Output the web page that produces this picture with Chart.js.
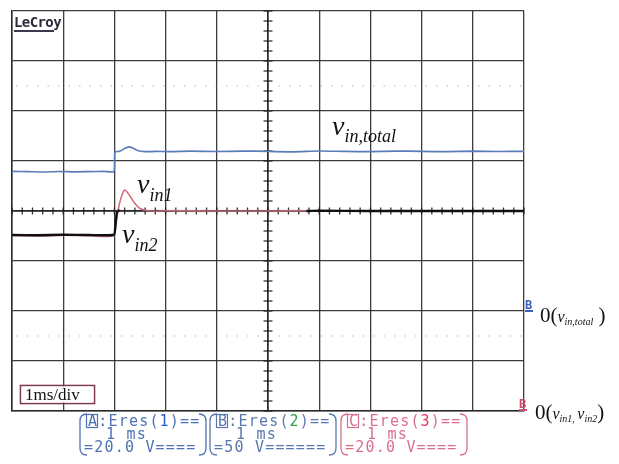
<!DOCTYPE html>
<html>
<head>
<meta charset="utf-8">
<script src="https://cdn.jsdelivr.net/npm/chart.js@4"></script>
<style>
  html, body { margin: 0; padding: 0; background: #ffffff; }
  #wrap { position: relative; width: 619px; height: 464px; }
  canvas { display: block; }
</style>
</head>
<body>
<div id="wrap"><canvas id="scope" width="619" height="464"></canvas></div>
<script>
// Horizontal: 1 ms/div, 10 divisions; vertical: 8 divisions.
const timeDivs = [0, 1, 2, 3, 4, 5, 6, 7, 8, 9, 10];

// Channel B: total input voltage (50 V/div, ground 2 div below centre)
const totalTime = [0, 0.3, 0.6, 0.9, 1.2, 1.5, 1.8, 1.99, 2.01, 2.1, 2.2, 2.28, 2.36, 2.45, 2.6, 2.8, 3.1, 3.5, 4.0, 4.5, 5.0, 5.5, 6.0, 6.5, 7.0, 7.5, 8.0, 8.5, 9.0, 9.5, 10];
const vinTotal  = [139.6, 139.4, 139.0, 139.5, 139.2, 139.4, 139.6, 139.5, 159.0, 159.6, 162.5, 164.2, 163.0, 160.5, 159.3, 159.6, 159.4, 159.8, 159.5, 159.9, 159.6, 159.2, 160.0, 159.6, 159.4, 159.9, 159.6, 159.3, 159.8, 159.5, 159.7];

// Channels C and A: the two module input voltages (20 V/div, ground at bottom)
const inputTime = [0, 0.5, 1.0, 1.5, 1.99, 2.02, 2.05, 2.1, 2.15, 2.2, 2.25, 2.32, 2.4, 2.5, 2.6, 2.8, 3.0, 4.0, 5.0, 5.75, 6.0, 7.0, 8.0, 9.0, 10];
const vin1 = [70.2, 70.0, 70.3, 70.1, 70.2, 74.0, 78.0, 83.0, 86.5, 88.4, 87.5, 85.5, 83.0, 81.0, 80.3, 79.9, 80.1, 80.0, 80.0, 80.1, 80.0, 80.0, 80.0, 80.0, 80.0];
const vin2 = [70.4, 70.3, 70.5, 70.4, 70.5, 74.0, 79.5, 80.3, 79.8, 80.1, 80.0, 80.0, 80.0, 80.0, 80.0, 80.0, 80.0, 80.0, 80.0, 80.0, 80.1, 80.0, 80.0, 80.0, 80.0];

// Channel settings: volts per division and ground position (divisions from centre)
const chA = { vPerDiv: 20, ground: -4 };
const chB = { vPerDiv: 50, ground: -2 };
const chC = { vPerDiv: 20, ground: -4 };

function toDivs(times, volts, ch) {
  return times.map((t, i) => ({ x: t, y: ch.ground + volts[i] / ch.vPerDiv }));
}

const GRID = 'rgba(40,40,40,0.9)';

const overlay = {
  id: 'scopeOverlay',
  beforeDatasetsDraw(chart) {
    const { ctx, chartArea: a, scales: { x, y } } = chart;
    ctx.save();
    // dotted graticule rows
    ctx.strokeStyle = 'rgba(120,120,120,0.55)';
    ctx.lineWidth = 1;
    ctx.setLineDash([1.5, 9]);
    [2.5, -2.5].forEach(d => {
      const py = y.getPixelForValue(d);
      ctx.beginPath(); ctx.moveTo(a.left + 4, py); ctx.lineTo(a.right, py); ctx.stroke();
    });
    ctx.setLineDash([]);
    // centre axes with minor ticks (5 per division)
    const cx = x.getPixelForValue(5), cy = y.getPixelForValue(0);
    ctx.strokeStyle = 'rgba(30,30,30,0.9)';
    ctx.lineWidth = 1.3;
    ctx.beginPath(); ctx.moveTo(a.left, cy); ctx.lineTo(a.right, cy); ctx.stroke();
    ctx.beginPath(); ctx.moveTo(cx, a.top); ctx.lineTo(cx, a.bottom); ctx.stroke();
    ctx.lineWidth = 1.3;
    for (let t = 0; t <= 10.001; t += 0.2) {
      const px = x.getPixelForValue(t);
      ctx.beginPath(); ctx.moveTo(px, cy - 3.5); ctx.lineTo(px, cy + 3.5); ctx.stroke();
    }
    for (let d = -4; d <= 4.001; d += 0.2) {
      const py = y.getPixelForValue(d);
      ctx.beginPath(); ctx.moveTo(cx - 4.5, py); ctx.lineTo(cx + 4.5, py); ctx.stroke();
    }
    ctx.restore();
  },
  afterDraw(chart) {
    const { ctx, chartArea: a, scales: { x, y } } = chart;
    ctx.save();
    ctx.textBaseline = 'alphabetic';

    // LeCroy logo
    ctx.font = 'bold 14px "DejaVu Sans Mono"';
    ctx.fillStyle = '#2b2b3a';
    ctx.letterSpacing = '-0.6px';
    ctx.fillText('LeCroy', a.left + 2, a.top + 16);
    ctx.letterSpacing = '0px';
    ctx.fillStyle = '#3a3a4a';
    ctx.fillRect(a.left + 2, a.top + 19, 40, 2);

    // runs of text: [text, font, dy]
    function runs(px, py, parts) {
      let cur = px;
      parts.forEach(([t, f, dy]) => {
        ctx.font = f;
        ctx.fillText(t, cur, py + (dy || 0));
        cur += ctx.measureText(t).width;
      });
    }
    const vMain = 'italic 28px "Liberation Serif"';
    const vSub = 'italic 18px "Liberation Serif"';
    ctx.fillStyle = '#111';
    runs(332, 135, [['v', vMain], ['in,total', vSub, 7]]);
    runs(137, 193, [['v', vMain], ['in1', vSub, 8]]);
    runs(122, 243, [['v', vMain], ['in2', vSub, 8]]);

    // ground markers at the right edge
    const gB = y.getPixelForValue(chB.ground);
    ctx.font = 'bold 12px "DejaVu Sans Mono"';
    ctx.fillStyle = '#3a5fc0';
    ctx.fillText('B', a.right + 1, gB - 2);
    ctx.fillRect(a.right + 1, gB - 1, 8, 2);
    const gA = y.getPixelForValue(chA.ground);
    ctx.fillStyle = '#c85070';
    ctx.fillText('B', a.right - 5, gA - 3);
    ctx.fillRect(a.right - 5, gA - 2, 8, 2);

    ctx.fillStyle = '#111';
    const big = '21px "Liberation Serif"';
    const iv = 'italic 16px "Liberation Serif"';
    const is = 'italic 10px "Liberation Serif"';
    runs(540, gB + 11, [['0(', big], ['v', iv], ['in,total', is, 3], [' )', big]]);
    runs(535, gA + 8, [['0(', big], ['v', iv], ['in1,', is, 3], [' ', is], ['v', iv], ['in2', is, 3], [')', big]]);

    // time base box
    ctx.strokeStyle = '#7a3a4a';
    ctx.lineWidth = 1.6;
    ctx.strokeRect(20.5, 385.5, 74, 18);
    ctx.fillStyle = '#ffffff';
    ctx.fillRect(21.5, 386.5, 72, 16);
    ctx.fillStyle = '#111';
    ctx.font = '17px "Liberation Serif"';
    ctx.fillText('1ms/div', 25, 400);

    // channel parameter boxes
    function bracketBox(x0, x1, top, bot, color) {
      ctx.strokeStyle = color; ctx.lineWidth = 1.3;
      ctx.beginPath();
      ctx.moveTo(x0 + 7, top); ctx.quadraticCurveTo(x0, top, x0, top + 7);
      ctx.lineTo(x0, bot - 7); ctx.quadraticCurveTo(x0, bot, x0 + 7, bot);
      ctx.stroke();
      ctx.beginPath();
      ctx.moveTo(x1 - 7, top); ctx.quadraticCurveTo(x1, top, x1, top + 7);
      ctx.lineTo(x1, bot - 7); ctx.quadraticCurveTo(x1, bot, x1 - 7, bot);
      ctx.stroke();
    }
    function chanBox(x0, letter, digit, l2, l3, base, digitCol) {
      bracketBox(x0, x0 + 126, 414, 455, base);
      ctx.font = '15px "DejaVu Sans Mono"';
      ctx.letterSpacing = '1.2px';
      const lx = x0 + 8;
      // boxed channel letter
      ctx.fillStyle = base;
      ctx.fillText(letter, lx, 426);
      ctx.strokeStyle = base; ctx.lineWidth = 1.2;
      ctx.strokeRect(lx - 1.5, 414.5, 11, 13);
      let cx = lx + ctx.measureText(letter).width;
      const seg = [[':Eres(', base], [digit, digitCol], [')==', base]];
      seg.forEach(([t, c]) => { ctx.fillStyle = c; ctx.fillText(t, cx, 426); cx += ctx.measureText(t).width; });
      ctx.fillStyle = base;
      ctx.fillText(l2, x0 + 26, 439);
      ctx.fillText(l3, x0 + 4, 452);
      ctx.letterSpacing = '0px';
    }
    chanBox(80, 'A', '1', '1 ms', '=20.0 V====', '#4f72b4', '#2a5ad0');
    chanBox(210, 'B', '2', '1 ms', '=50 V======', '#5a78ae', '#33a050');
    chanBox(341, 'C', '3', '1 ms', '=20.0 V====', '#d8708c', '#e23a5c');
    ctx.restore();
  }
};

const chart = new Chart(document.getElementById('scope'), {
  type: 'line',
  data: {
    datasets: [
      {
        label: 'v_in2',
        data: toDivs(inputTime, vin2, chA),
        borderColor: '#101010',
        borderWidth: 2.4,
        pointRadius: 0,
        tension: 0.15,
        order: 0,
        segment: {
          borderColor: c => (c.p0.parsed.x >= 2.1 && c.p1.parsed.x <= 5.75) ? 'rgba(60,60,60,0.18)' : undefined
        }
      },
      {
        label: 'v_in1',
        data: toDivs(inputTime, vin1, chC),
        borderColor: '#d4707e',
        borderWidth: 1.6,
        pointRadius: 0,
        tension: 0.3,
        order: 1
      },
      {
        label: 'v_in,total',
        data: toDivs(totalTime, vinTotal, chB),
        borderColor: '#5a7db8',
        borderWidth: 1.7,
        pointRadius: 0,
        tension: 0.2,
        order: 2
      }
    ]
  },
  options: {
    responsive: false,
    animation: false,
    events: [],
    layout: { padding: { left: 12, top: 11, right: 95, bottom: 53 } },
    plugins: { legend: { display: false }, tooltip: { enabled: false } },
    scales: {
      x: {
        type: 'linear', min: timeDivs[0], max: timeDivs[timeDivs.length - 1],
        ticks: { stepSize: 1, display: false },
        grid: { color: GRID, lineWidth: 1.3, drawTicks: false },
        border: { display: true, color: '#2a2a2a', width: 1.5 }
      },
      y: {
        type: 'linear', min: -4, max: 4,
        ticks: { stepSize: 1, display: false },
        grid: { color: GRID, lineWidth: 1.3, drawTicks: false },
        border: { display: true, color: '#2a2a2a', width: 1.5 }
      }
    }
  },
  plugins: [overlay]
});
</script>
</body>
</html>
